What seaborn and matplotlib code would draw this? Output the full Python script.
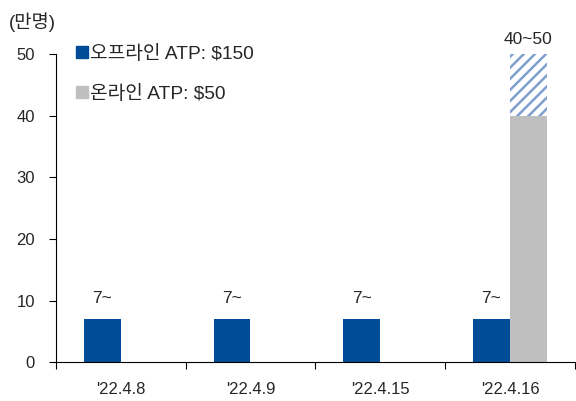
import pandas as pd
import matplotlib.pyplot as plt
import seaborn as sns
from matplotlib.lines import Line2D

sns.set_style("white")
plt.rcParams["font.family"] = ["Liberation Sans", "Noto Sans CJK KR"]
plt.rcParams["hatch.linewidth"] = 1.8

# data
dates = ["'22.4.8", "'22.4.9", "'22.4.15", "'22.4.16"]
offline = [7, 7, 7, 7]
online_low = [0, 0, 0, 40]
online_high = [0, 0, 0, 50]
offline_labels = ["7~", "7~", "7~", "7~"]
online_labels = ["", "", "", "40~50"]
series = ["오프라인 ATP: $150", "온라인 ATP: $50"]

blue = "#004c97"
grey = "#bfbfbf"
hatch_col = "#7f9fcf"

df = pd.DataFrame({
    "date": dates * 2,
    "series": [series[0]] * 4 + [series[1]] * 4,
    "value": offline + online_low,
})

fig = plt.figure(figsize=(5.76, 4.01), dpi=100)
ax = fig.add_axes([0.097, 0.097, 0.901, 0.768])

sns.barplot(data=df, x="date", y="value", hue="series", palette=[blue, grey],
            width=0.57, saturation=1, legend=False, ax=ax, linewidth=0)

n = len(dates)
off_bars = ax.patches[:n]
on_bars = ax.patches[n:2 * n]

# hatched range on top of online bar
for p, lo, hi, lab in zip(on_bars, online_low, online_high, online_labels):
    if hi > lo:
        ax.bar(p.get_x(), hi - lo, bottom=lo, width=p.get_width(), align="edge",
               facecolor="white", edgecolor=hatch_col, hatch="///", linewidth=0)
    if lab:
        ax.text(p.get_x() + p.get_width() / 2, hi + 1.2, lab, ha="center", va="bottom", fontsize=12.5)

for p, v, lab in zip(off_bars, offline, offline_labels):
    ax.text(p.get_x() + p.get_width() / 2, v + 2.1, lab, ha="center", va="bottom", fontsize=12.5)

ax.set_ylim(0, 50)
ax.set_xlim(-0.5, n - 0.5)
ax.set_yticks(range(0, 51, 10))
ax.set_xticks([i - 0.5 for i in range(n + 1)], minor=True)
ax.tick_params(axis="x", which="major", length=0, pad=14, labelsize=12)
ax.tick_params(axis="x", which="minor", length=5, width=0.8, direction="out", bottom=True, color="black")
ax.tick_params(axis="y", length=5, width=0.8, direction="out", left=True, pad=10, labelsize=12, color="black")
ax.set_xlabel("")
ax.set_ylabel("")
sns.despine(ax=ax)
for s in ["left", "bottom"]:
    ax.spines[s].set_color("black")
    ax.spines[s].set_linewidth(0.8)

fig.text(0.015, 0.945, "(만명)", fontsize=13.5, va="center")

handles = [Line2D([], [], marker="s", linestyle="", markersize=8, color=c) for c in [blue, grey]]
ax.legend(handles, series, loc="upper left", bbox_to_anchor=(0.02, 1.055), frameon=False,
          fontsize=13.8, handletextpad=0.05, handlelength=0.8, labelspacing=1.15, borderaxespad=0)

fig.savefig("out.png")
